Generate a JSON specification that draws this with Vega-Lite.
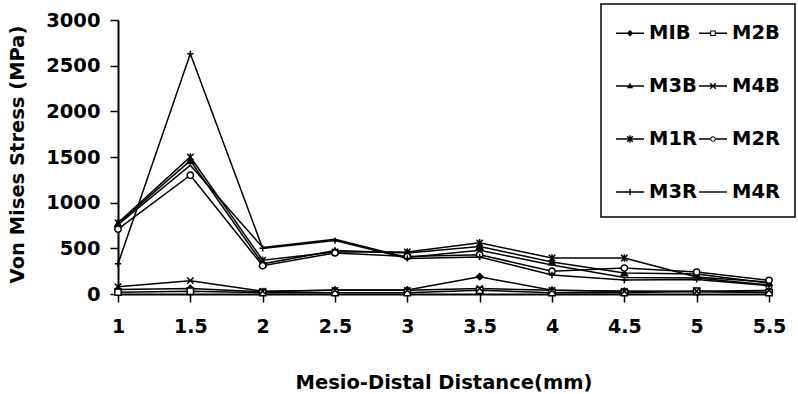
{
  "$schema": "https://vega.github.io/schema/vega-lite/v6.json",
  "autosize": {"type": "none"},
  "width": 651,
  "height": 274,
  "padding": {"left": 118, "top": 20, "right": 29, "bottom": 100},
  "background": "white",
  "config": {
    "view": {"stroke": null},
    "font": "DejaVu Sans",
    "legend": {"strokeWidth": 1.5},
    "axis": {"labelFont": "DejaVu Sans", "titleFont": "DejaVu Sans", "labelFontWeight": "bold", "titleFontWeight": "bold", "labelColor": "black", "titleColor": "black", "domainColor": "black", "tickColor": "black", "grid": false, "domainWidth": 2, "tickWidth": 1.5}
  },
  "data": {"values": [
    {"series": "MIB", "x": 1, "y": 50}, {"series": "MIB", "x": 1.5, "y": 60}, {"series": "MIB", "x": 2, "y": 25}, {"series": "MIB", "x": 2.5, "y": 45}, {"series": "MIB", "x": 3, "y": 45}, {"series": "MIB", "x": 3.5, "y": 190}, {"series": "MIB", "x": 4, "y": 40}, {"series": "MIB", "x": 4.5, "y": 30}, {"series": "MIB", "x": 5, "y": 25}, {"series": "MIB", "x": 5.5, "y": 20},
    {"series": "M2B", "x": 1, "y": 20}, {"series": "M2B", "x": 1.5, "y": 30}, {"series": "M2B", "x": 2, "y": 15}, {"series": "M2B", "x": 2.5, "y": 15}, {"series": "M2B", "x": 3, "y": 15}, {"series": "M2B", "x": 3.5, "y": 40}, {"series": "M2B", "x": 4, "y": 15}, {"series": "M2B", "x": 4.5, "y": 15}, {"series": "M2B", "x": 5, "y": 30}, {"series": "M2B", "x": 5.5, "y": 15},
    {"series": "M3B", "x": 1, "y": 770}, {"series": "M3B", "x": 1.5, "y": 1460}, {"series": "M3B", "x": 2, "y": 330}, {"series": "M3B", "x": 2.5, "y": 475}, {"series": "M3B", "x": 3, "y": 450}, {"series": "M3B", "x": 3.5, "y": 520}, {"series": "M3B", "x": 4, "y": 350}, {"series": "M3B", "x": 4.5, "y": 230}, {"series": "M3B", "x": 5, "y": 220}, {"series": "M3B", "x": 5.5, "y": 120},
    {"series": "M4B", "x": 1, "y": 80}, {"series": "M4B", "x": 1.5, "y": 146}, {"series": "M4B", "x": 2, "y": 30}, {"series": "M4B", "x": 2.5, "y": 40}, {"series": "M4B", "x": 3, "y": 40}, {"series": "M4B", "x": 3.5, "y": 60}, {"series": "M4B", "x": 4, "y": 40}, {"series": "M4B", "x": 4.5, "y": 30}, {"series": "M4B", "x": 5, "y": 30}, {"series": "M4B", "x": 5.5, "y": 40},
    {"series": "M1R", "x": 1, "y": 780}, {"series": "M1R", "x": 1.5, "y": 1500}, {"series": "M1R", "x": 2, "y": 370}, {"series": "M1R", "x": 2.5, "y": 460}, {"series": "M1R", "x": 3, "y": 460}, {"series": "M1R", "x": 3.5, "y": 560}, {"series": "M1R", "x": 4, "y": 394}, {"series": "M1R", "x": 4.5, "y": 394}, {"series": "M1R", "x": 5, "y": 186}, {"series": "M1R", "x": 5.5, "y": 130},
    {"series": "M2R", "x": 1, "y": 710}, {"series": "M2R", "x": 1.5, "y": 1300}, {"series": "M2R", "x": 2, "y": 310}, {"series": "M2R", "x": 2.5, "y": 450}, {"series": "M2R", "x": 3, "y": 410}, {"series": "M2R", "x": 3.5, "y": 430}, {"series": "M2R", "x": 4, "y": 250}, {"series": "M2R", "x": 4.5, "y": 284}, {"series": "M2R", "x": 5, "y": 240}, {"series": "M2R", "x": 5.5, "y": 150},
    {"series": "M3R", "x": 1, "y": 330}, {"series": "M3R", "x": 1.5, "y": 2630}, {"series": "M3R", "x": 2, "y": 500}, {"series": "M3R", "x": 2.5, "y": 585}, {"series": "M3R", "x": 3, "y": 390}, {"series": "M3R", "x": 3.5, "y": 405}, {"series": "M3R", "x": 4, "y": 208}, {"series": "M3R", "x": 4.5, "y": 153}, {"series": "M3R", "x": 5, "y": 160}, {"series": "M3R", "x": 5.5, "y": 90},
    {"series": "M4R", "x": 1, "y": 760}, {"series": "M4R", "x": 1.5, "y": 1410}, {"series": "M4R", "x": 2, "y": 510}, {"series": "M4R", "x": 2.5, "y": 600}, {"series": "M4R", "x": 3, "y": 400}, {"series": "M4R", "x": 3.5, "y": 480}, {"series": "M4R", "x": 4, "y": 317}, {"series": "M4R", "x": 4.5, "y": 180}, {"series": "M4R", "x": 5, "y": 175}, {"series": "M4R", "x": 5.5, "y": 100}
  ]},
  "encoding": {
    "x": {"field": "x", "type": "quantitative", "scale": {"domain": [1, 5.5], "nice": false, "zero": false},
      "axis": {"values": [1, 1.5, 2, 2.5, 3, 3.5, 4, 4.5, 5, 5.5], "format": "~g", "title": "Mesio-Distal Distance(mm)", "labelFontSize": 19, "titleFontSize": 19.5, "tickSize": 8, "labelPadding": 15, "titlePadding": 37, "labelFlush": false}},
    "y": {"field": "y", "type": "quantitative", "scale": {"domain": [0, 3000], "nice": false},
      "axis": {"values": [0, 500, 1000, 1500, 2000, 2500, 3000], "format": "d", "title": "Von Mises Stress (MPa)", "labelFontSize": 19.5, "titleFontSize": 19.5, "tickSize": 8, "labelPadding": 10, "titlePadding": 18, "titleY": 134}}
  },
  "resolve": {"scale": {"shape": "independent"}, "legend": {"shape": "independent"}},
  "layer": [
    {
      "mark": {"type": "line", "color": "black", "strokeWidth": 1.5},
      "encoding": {"detail": {"field": "series"}}
    },
    {
      "mark": {"type": "point", "size": 40, "strokeWidth": 1.5, "stroke": "black", "opacity": 1},
      "encoding": {
        "fill": {"condition": {"test": "datum.series === 'M2B' || datum.series === 'M2R'", "value": "white"}, "value": "black"},
        "shape": {"field": "series", "type": "nominal", "legend": null,
          "scale": {"domain": ["MIB", "M2B", "M3B", "M4B", "M1R", "M2R", "M3R", "M4R"],
            "range": ["diamond", "square", "triangle-up", "M-1,-1L1,1M1,-1L-1,1", "M-1,-1L1,1M1,-1L-1,1M0,-1.2L0,1.2", "circle", "M-1,0L1,0M0,-1L0,1", "M0,0"]}}
      }
    },
    {
      "mark": {"type": "point", "size": 0, "filled": true, "fill": "black", "strokeWidth": 0, "opacity": 1},
      "encoding": {
        "shape": {"field": "series", "type": "nominal",
          "scale": {"domain": ["MIB", "M2B", "M3B", "M4B", "M1R", "M2R", "M3R", "M4R"],
            "range": [
              "M-1,-0.05L1,-0.05L1,0.05L-1,0.05ZM-0.24,0L0,-0.24L0.24,0L0,0.24Z",
              "M-1,-0.05L-0.2,-0.05L-0.2,0.05L-1,0.05ZM0.2,-0.05L1,-0.05L1,0.05L0.2,0.05ZM-0.2,-0.2L0.2,-0.2L0.2,0.2L-0.2,0.2ZM-0.13,-0.13L-0.13,0.13L0.13,0.13L0.13,-0.13Z",
              "M-1,-0.05L1,-0.05L1,0.05L-1,0.05ZM-0.22,0.16L0,-0.24L0.22,0.16Z",
              "M-1,-0.05L1,-0.05L1,0.05L-1,0.05ZM-0.165,-0.235L0.235,0.165L0.165,0.235L-0.235,-0.165ZM0.235,-0.165L-0.165,0.235L-0.235,0.165L0.165,-0.235Z",
              "M-1,-0.05L1,-0.05L1,0.05L-1,0.05ZM-0.165,-0.235L0.235,0.165L0.165,0.235L-0.235,-0.165ZM0.235,-0.165L-0.165,0.235L-0.235,0.165L0.165,-0.235ZM-0.05,-0.26L0.05,-0.26L0.05,0.26L-0.05,0.26Z",
              "M-1,-0.05L-0.2,-0.05L-0.2,0.05L-1,0.05ZM0.2,-0.05L1,-0.05L1,0.05L0.2,0.05ZM-0.2,0A0.2,0.2,0,1,1,0.2,0A0.2,0.2,0,1,1,-0.2,0ZM-0.13,0A0.13,0.13,0,1,0,0.13,0A0.13,0.13,0,1,0,-0.13,0Z",
              "M-1,-0.05L1,-0.05L1,0.05L-1,0.05ZM-0.05,-0.24L0.05,-0.24L0.05,0.24L-0.05,0.24Z",
              "M-1,-0.05L1,-0.05L1,0.05L-1,0.05Z"
            ]},
          "legend": {
            "title": null, "orient": "none", "legendX": 483, "legendY": -16, "columns": 2, "direction": "horizontal",
            "strokeColor": "black", "padding": 15, "fillColor": "white",
            "symbolSize": 784, "symbolFillColor": "black", "symbolStrokeWidth": 0,
            "labelFont": "DejaVu Sans", "labelFontWeight": "bold", "labelFontSize": 19.5, "labelColor": "black", "labelOffset": 5,
            "columnPadding": 2, "rowPadding": 29
          }}
      }
    }
  ]
}
